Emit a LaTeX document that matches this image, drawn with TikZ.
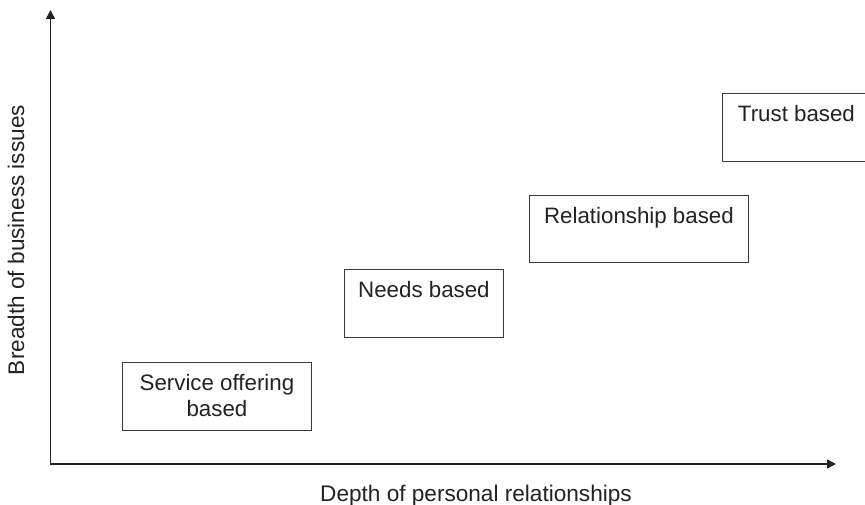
\documentclass[tikz,border=0pt]{standalone}
\usepackage{fontspec}
\setmainfont{Liberation Sans}
\usetikzlibrary{arrows.meta}
\definecolor{ink}{HTML}{222222}
\definecolor{frame}{HTML}{3A3A3A}
\tikzset{
  stage/.style={draw=frame, line width=0.9pt, inner sep=0pt, anchor=north west,
    text=ink, font=\fontsize{22.3}{26}\selectfont},
  axis/.style={draw=ink, line width=1.4pt, line cap=rect,
    -{Triangle[length=9pt,width=9pt]}},
  axislabel/.style={text=ink, font=\fontsize{22.6}{26}\selectfont,
    inner sep=0pt, anchor=base},
}
% box body: width, height, centred text hanging from the top
\newcommand{\stagetext}[3]{\parbox[c][#2][t]{#1}{\centering\vspace*{12pt}#3\par}}
\begin{document}
\begin{tikzpicture}[x=1pt, y=-1pt]
  \useasboundingbox (0,0) rectangle (865,505);
  \clip (0,0) rectangle (865,505);

  % axes
  \coordinate (o) at (50.5,464);
  \coordinate (ytip) at (50.5,10);
  \coordinate (xtip) at (836,464);
  \draw[axis] (o) -- (ytip);
  \draw[axis] (o) -- (xtip);

  \node[axislabel, rotate=90] (ylab) at (24,240) {Breadth of business issues};
  \node[axislabel] (xlab) at (476,501) {Depth of personal relationships};

  % stages
  \node[stage] (svc) at (122,362) {\stagetext{189pt}{68pt}{Service offering\\based}};
  \node[stage] (needs) at (344,269) {\stagetext{159pt}{68pt}{Needs based}};
  \node[stage] (rel) at (529,195) {\stagetext{219pt}{67pt}{Relationship based}};
  \node[stage] (trust) at (722,93) {\stagetext{148pt}{68pt}{Trust based}};
\end{tikzpicture}
\end{document}
